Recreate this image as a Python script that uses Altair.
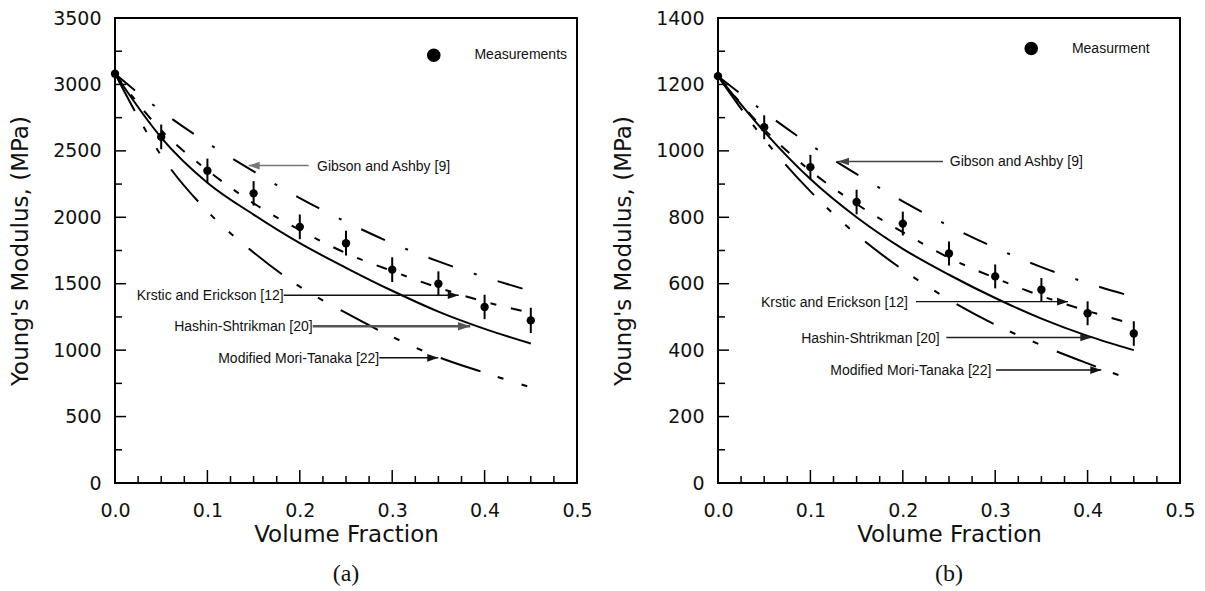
import altair as alt
import pandas as pd

# ---------------- data ----------------
vf = [0.0, 0.05, 0.10, 0.15, 0.20, 0.25, 0.30, 0.35, 0.40, 0.45]

# panel (a)
a_meas = [3080, 2605, 2350, 2180, 1928, 1805, 1606, 1500, 1325, 1224]
a_err = [0, 93, 92, 92, 93, 93, 93, 93, 92, 95]
a_gibson = [3080, 2800, 2560, 2345, 2145, 1965, 1805, 1668, 1550, 1445]
a_krstic = [3080, 2655, 2355, 2105, 1905, 1730, 1595, 1470, 1365, 1280]
a_hashin = [3080, 2600, 2260, 2020, 1805, 1620, 1447, 1290, 1160, 1050]
a_mori = [3080, 2465, 2045, 1735, 1478, 1280, 1100, 948, 830, 720]

# panel (b)
b_meas = [1225, 1071, 951, 846, 781, 691, 622, 582, 511, 450]
b_err = [0, 36, 37, 37, 36, 36, 36, 35, 36, 37]
b_gibson = [1225, 1117, 1018, 930, 848, 774, 708, 650, 602, 560]
b_krstic = [1225, 1065, 940, 840, 755, 678, 617, 563, 518, 478]
b_hashin = [1225, 1058, 915, 800, 705, 627, 557, 495, 443, 400]
b_mori = [1225, 1035, 878, 748, 642, 552, 477, 415, 360, 308]

# annotations
ann_labels = ["Gibson and Ashby [9]", "Krstic and Erickson [12]",
              "Hashin-Shtrikman [20]", "Modified Mori-Tanaka [22]"]
ann_dir = ["left", "right", "right", "right"]

a_ann_y = [2389, 1413, 1180, 942]
a_ann_text_x = [0.2186, 0.1826, 0.214, 0.286]
a_ann_tail = [0.2096, 0.1826, 0.214, 0.286]
a_ann_tip = [0.1447, 0.372, 0.3845, 0.3498]
a_ann_color = ["#777777", "#111111", "#555555", "#111111"]
a_ann_width = [1.5, 1.4, 2.5, 1.5]

b_ann_y = [968, 546, 438, 340]
b_ann_text_x = [0.2508, 0.2056, 0.2399, 0.2958]
b_ann_tail = [0.2435, 0.2143, 0.2471, 0.301]
b_ann_tip = [0.1299, 0.3788, 0.404, 0.4148]
b_ann_color = ["#444444", "#111111", "#222222", "#111111"]
b_ann_width = [1.6, 1.4, 1.4, 1.4]

# legend
a_legend = ["Measurements"]
b_legend = ["Measurment"]
a_leg_pos = [0.345, 0.389, 3220]   # dot x, text x, y
b_leg_pos = [0.339, 0.383, 1308]

# axes / ticks
x_labels = [0.0, 0.1, 0.2, 0.3, 0.4, 0.5]
x_major = [0.1, 0.2, 0.3, 0.4]
x_minor = [0.025, 0.05, 0.075, 0.125, 0.15, 0.175, 0.225, 0.25, 0.275,
           0.325, 0.35, 0.375, 0.425, 0.45, 0.475]
a_y_labels = [0, 500, 1000, 1500, 2000, 2500, 3000, 3500]
a_y_major = [500, 1000, 1500, 2000, 2500, 3000]
a_y_minor = [250, 750, 1250, 1750, 2250, 2750, 3250]
b_y_labels = [0, 200, 400, 600, 800, 1000, 1200, 1400]
b_y_major = [200, 400, 600, 800, 1000, 1200]
b_y_minor = [100, 300, 500, 700, 900, 1100, 1300]

W, H = 462, 465
FONT = "DejaVu Sans"
AFONT = "Liberation Sans"

HEAD_R = "M0,0L-2,-0.7L-2,0.7Z"
HEAD_L = "M0,0L2,-0.7L2,0.7Z"


def panel(meas, err, gib, krs, has, mori, ymax, ylabels, ymaj, ymin,
          legend, legpos, ann_y, ann_tx, ann_tail, ann_tip, ann_color,
          ann_width, tag):
    xs = alt.Scale(domain=[0, 0.5], nice=False, zero=False)
    ys = alt.Scale(domain=[0, ymax], nice=False, zero=False)
    xaxis = alt.Axis(title="Volume Fraction", values=x_labels, format=".1f",
                     ticks=False, domain=False, grid=False, labelFlush=False,
                     labelFont=FONT, labelFontSize=19, labelPadding=18,
                     labelColor="#111", titleFont=FONT, titleFontSize=23,
                     titleFontWeight="normal", titlePadding=3,
                     titleColor="#111")
    yaxis = alt.Axis(title="Young's Modulus, (MPa)", values=ylabels,
                     format="d", ticks=False, domain=False, grid=False,
                     labelFlush=False,
                     labelFont=FONT, labelFontSize=19, labelPadding=14,
                     labelColor="#111", titleFont=FONT, titleFontSize=23,
                     titleFontWeight="normal", titlePadding=20,
                     titleColor="#111")

    def X(f):
        return alt.X(f"{f}:Q", scale=xs, axis=xaxis)

    def Y(f):
        return alt.Y(f"{f}:Q", scale=ys, axis=yaxis)

    df = pd.DataFrame({
        "vf": vf, "meas": meas,
        "lo": [m - e for m, e in zip(meas, err)],
        "hi": [m + e for m, e in zip(meas, err)],
        "gib": gib, "krs": krs, "has": has, "mori": mori,
    })
    base = alt.Chart(df)

    layers = []
    styles = [("gib", [26, 22, 3, 22]), ("krs", [11, 15, 6, 15]),
              ("has", None), ("mori", [42, 18, 6, 19, 6, 20])]
    for f, dash in styles:
        kw = dict(color="black", strokeWidth=2, interpolate="monotone")
        if dash is not None:
            kw["strokeDash"] = dash
        layers.append(base.mark_line(**kw).encode(x=X("vf"), y=Y(f)))

    layers.append(
        base.transform_filter("datum.hi > datum.lo")
        .mark_rule(color="black", strokeWidth=2)
        .encode(x=X("vf"), y=Y("lo"), y2="hi"))
    layers.append(base.mark_circle(size=70, color="black", opacity=1)
                  .encode(x=X("vf"), y=Y("meas")))

    # legend
    ldot = pd.DataFrame({"x": [legpos[0]], "y": [legpos[2]]})
    ltxt = pd.DataFrame({"x": [legpos[1]], "y": [legpos[2]], "t": legend})
    layers.append(alt.Chart(ldot).mark_circle(size=185, color="black", opacity=1)
                  .encode(x=X("x"), y=Y("y")))
    layers.append(alt.Chart(ltxt).mark_text(align="left", baseline="middle",
                                            font=AFONT, fontSize=14, color="#111")
                  .encode(x=X("x"), y=Y("y"), text="t:N"))

    # annotations
    adf = pd.DataFrame({
        "label": ann_labels, "dir": ann_dir, "y": ann_y, "tx": ann_tx,
        "tail": ann_tail, "tip": ann_tip, "color": ann_color,
        "width": ann_width,
        "shape": [HEAD_L if d == "left" else HEAD_R for d in ann_dir],
        "hsize": [150 if w > 2 else 120 for w in ann_width],
    })
    ach = alt.Chart(adf)
    layers.append(ach.mark_rule().encode(
        x=X("tail"), x2="tip", y=Y("y"),
        color=alt.Color("color:N", scale=None),
        strokeWidth=alt.StrokeWidth("width:Q", scale=None)))
    layers.append(ach.mark_point(filled=True, opacity=1, strokeWidth=0).encode(
        x=X("tip"), y=Y("y"),
        shape=alt.Shape("shape:N", scale=None),
        color=alt.Color("color:N", scale=None),
        size=alt.Size("hsize:Q", scale=None)))
    layers.append(ach.transform_filter("datum.dir == 'left'")
                  .mark_text(align="left", baseline="middle", font=AFONT,
                             fontSize=14, color="#111", dy=1)
                  .encode(x=X("tx"), y=Y("y"), text="label:N"))
    layers.append(ach.transform_filter("datum.dir == 'right'")
                  .mark_text(align="right", baseline="middle", font=AFONT,
                             fontSize=14, color="#111", dy=1)
                  .encode(x=X("tx"), y=Y("y"), text="label:N"))

    # inward ticks
    layers.append(alt.Chart(pd.DataFrame({"t": x_major}))
                  .mark_rule(color="black", strokeWidth=1.5)
                  .encode(x=X("t"), y=alt.value(H), y2=alt.value(H - 13)))
    layers.append(alt.Chart(pd.DataFrame({"t": x_minor}))
                  .mark_rule(color="black", strokeWidth=1.5)
                  .encode(x=X("t"), y=alt.value(H), y2=alt.value(H - 7)))
    layers.append(alt.Chart(pd.DataFrame({"t": ymaj}))
                  .mark_rule(color="black", strokeWidth=1.5)
                  .encode(y=Y("t"), x=alt.value(0), x2=alt.value(11)))
    layers.append(alt.Chart(pd.DataFrame({"t": ymin}))
                  .mark_rule(color="black", strokeWidth=1.5)
                  .encode(y=Y("t"), x=alt.value(0), x2=alt.value(7)))

    return alt.layer(*layers).properties(
        width=W, height=H,
        title=alt.Title(tag, orient="bottom", anchor="middle", frame="group",
                        font="Liberation Serif", fontSize=24,
                        fontWeight="normal", color="#111", offset=16))


pa = panel(a_meas, a_err, a_gibson, a_krstic, a_hashin, a_mori, 3500,
           a_y_labels, a_y_major, a_y_minor, a_legend, a_leg_pos,
           a_ann_y, a_ann_text_x, a_ann_tail, a_ann_tip, a_ann_color,
           a_ann_width, "(a)")
pb = panel(b_meas, b_err, b_gibson, b_krstic, b_hashin, b_mori, 1400,
           b_y_labels, b_y_major, b_y_minor, b_legend, b_leg_pos,
           b_ann_y, b_ann_text_x, b_ann_tail, b_ann_tip, b_ann_color,
           b_ann_width, "(b)")

chart = alt.hconcat(pa, pb, spacing=17).properties(
    padding={"left": 0, "top": 0, "right": 0, "bottom": 0}
).configure_view(stroke="black", strokeWidth=2)

chart.save("out.html", embed_options={"renderer": "svg", "actions": False})
